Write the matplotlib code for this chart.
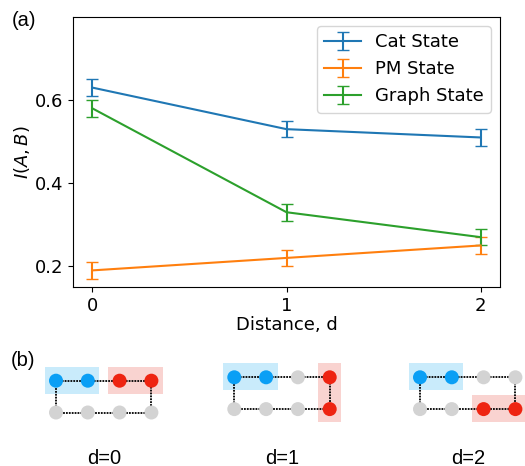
import matplotlib
matplotlib.use("Agg")
import matplotlib.pyplot as plt
from matplotlib.patches import Circle, Rectangle

# panel (a) data
distance = [0, 1, 2]
cat_state = [0.63, 0.53, 0.51]
pm_state = [0.19, 0.22, 0.25]
graph_state = [0.58, 0.33, 0.27]
err = [0.02, 0.02, 0.02]

# panel (b): 2x4 ring, nodes as (row, col); A = blue, B = red
labels_b = ["d=0", "d=1", "d=2"]
nodes_a = [[(0, 0), (0, 1)], [(0, 0), (0, 1)], [(0, 0), (0, 1)]]
nodes_b = [[(0, 2), (0, 3)], [(0, 3), (1, 3)], [(1, 2), (1, 3)]]

W, H = 525, 466
fig = plt.figure(figsize=(W / 100, H / 100), dpi=100)

ax = fig.add_axes([73 / W, 1 - 287 / H, 427 / W, 270 / H])
ax.errorbar(distance, cat_state, yerr=err, capsize=4.5, label="Cat State", color="tab:blue")
ax.errorbar(distance, pm_state, yerr=err, capsize=4.5, label="PM State", color="tab:orange")
ax.errorbar(distance, graph_state, yerr=err, capsize=4.5, label="Graph State", color="tab:green")
ax.set_xlim(-0.1, 2.1)
ax.set_ylim(0.15, 0.8)
ax.set_xticks([0, 1, 2])
ax.set_yticks([0.2, 0.4, 0.6])
ax.tick_params(labelsize=13)
ax.set_xlabel("Distance, d", fontsize=13, labelpad=1)
ax.set_ylabel("$I(A,B)$", fontsize=13, labelpad=2)
ax.legend(loc="upper right", fontsize=13)

# overlay in pixel coordinates for panel labels and diagrams
ov = fig.add_axes([0, 0, 1, 1], zorder=-1)
ov.set_xlim(0, W)
ov.set_ylim(H, 0)
ov.axis("off")
ov.patch.set_alpha(0)

ov.text(12, 21, "(a)", fontsize=14.5, family="Liberation Sans", va="center")
ov.text(11, 361, "(b)", fontsize=14.5, family="Liberation Sans", va="center")

origins = [(56, 380.7), (234.3, 377.3), (420, 377.3)]
dx, dy, r = 31.8, 31.8, 7
blue, red, grey = "#0a9ff5", "#ee2411", "#d3d3d3"
blue_bg, red_bg = "#c9ebfb", "#f9d3d0"
ring = [(0, 0), (0, 1), (0, 2), (0, 3), (1, 3), (1, 2), (1, 1), (1, 0)]

for k, (x0, y0) in enumerate(origins):
    pos = lambda rc: (x0 + rc[1] * dx, y0 + rc[0] * dy)
    for group, bg in ((nodes_a[k], blue_bg), (nodes_b[k], red_bg)):
        xs = [pos(n)[0] for n in group]
        ys = [pos(n)[1] for n in group]
        pad = 11.5
        ov.add_patch(Rectangle((min(xs) - pad, min(ys) - 14), max(xs) - min(xs) + 2 * pad,
                               max(ys) - min(ys) + 27, color=bg, lw=0, zorder=1))
    for i in range(len(ring)):
        p1, p2 = pos(ring[i]), pos(ring[(i + 1) % len(ring)])
        ov.plot([p1[0], p2[0]], [p1[1], p2[1]], color="black", ls=(0, (1, 0.6)), lw=1.3, zorder=2)
    for n in ring:
        c = blue if n in nodes_a[k] else red if n in nodes_b[k] else grey
        ov.add_patch(Circle(pos(n), r, color=c, lw=0, zorder=3))
    ov.text(x0 + 1.5 * dx, 463.5, labels_b[k], fontsize=14.5, family="Liberation Sans",
            ha="center", va="baseline")

fig.savefig("out.png", dpi=100)
